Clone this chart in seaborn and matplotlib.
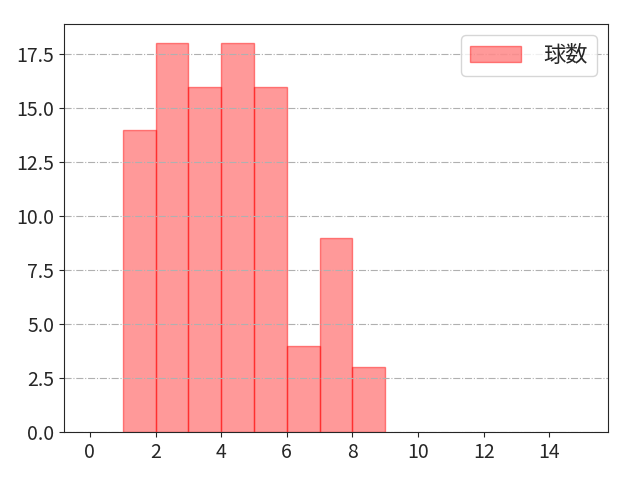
import numpy as np
import pandas as pd
import matplotlib
matplotlib.use('Agg')
import matplotlib.pyplot as plt
import seaborn as sns

# pitch counts per bin (bins of width 1)
bin_left = [1, 2, 3, 4, 5, 6, 7, 8]
counts = [14, 18, 16, 18, 16, 4, 9, 3]
label = '球数'

sns.set_style('ticks')
plt.rcParams['font.family'] = ['Noto Sans CJK JP', 'DejaVu Sans']

df = pd.DataFrame({'x': np.array(bin_left) + 0.5, 'w': counts})

fig = plt.figure(figsize=(6.4, 4.8), dpi=100)
ax = fig.add_axes([0.1, 0.1, 0.85, 0.85])
sns.histplot(data=df, x='x', weights='w', binwidth=1, binrange=(1, 9), ax=ax,
             color='red', alpha=0.4, edgecolor=(1, 0, 0, 0.45), linewidth=1, label=label)
ax.grid(axis='y', linestyle='-.', color='#b0b0b0', linewidth=0.8)
ax.set_axisbelow('line')
ax.set_xlim(-0.79, 15.79)
ax.set_xlabel('')
ax.set_ylabel('')
ax.set_xticks(range(0, 16, 2))
ax.tick_params(labelsize=14)
ax.legend(fontsize=16, loc='upper right', handlelength=2.3, handletextpad=1.0)
fig.savefig('out.png', dpi=100)
